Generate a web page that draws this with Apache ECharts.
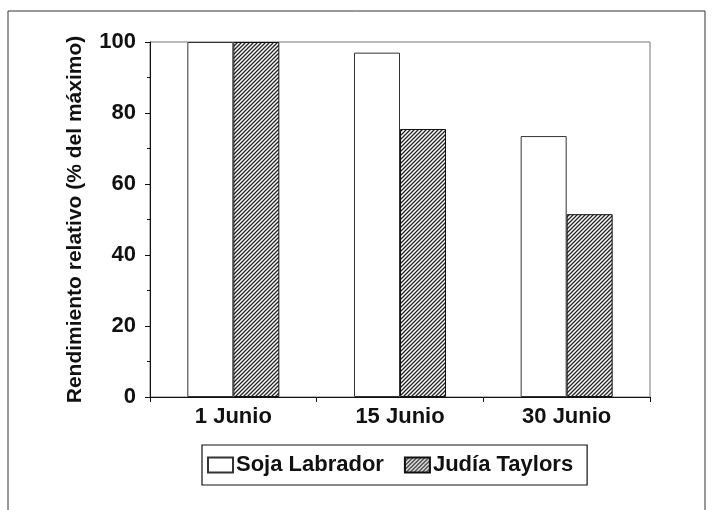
<!DOCTYPE html>
<html><head><meta charset="utf-8">
<script src="https://cdn.jsdelivr.net/npm/echarts@6/dist/echarts.min.js"></script>
<style>html,body{margin:0;padding:0;background:#fff}#c{width:713px;height:510px}</style>
</head><body><div id="c"></div>
<script>
var categories = ['1 Junio', '15 Junio', '30 Junio'];
var sojaLabrador = [100, 97, 73.5];
var judiaTaylors = [100, 75.5, 51.5];
var yTicks = [0, 20, 40, 60, 80, 100];

function hatch() {
  var s = 4;
  var cv = document.createElement('canvas');
  cv.width = s; cv.height = s;
  var g = cv.getContext('2d');
  g.fillStyle = '#fff'; g.fillRect(0, 0, s, s);
  g.strokeStyle = '#222'; g.lineWidth = 1.3;
  g.beginPath();
  g.moveTo(0, s); g.lineTo(s, 0);
  g.moveTo(-1, 1); g.lineTo(1, -1);
  g.moveTo(s - 1, s + 1); g.lineTo(s + 1, s - 1);
  g.stroke();
  return cv;
}

var font = '"Liberation Sans", Arial, sans-serif';
var chart = echarts.init(document.getElementById('c'));
chart.setOption({
  animation: false,
  backgroundColor: '#fff',
  textStyle: { fontFamily: font },
  graphic: [{
    type: 'rect', shape: { x: 8, y: 11, width: 697, height: 510 },
    style: { fill: 'none', stroke: '#333', lineWidth: 1 }, z: -1
  }],
  grid: { left: 150, top: 42, width: 500, height: 355, show: true, borderColor: '#777', borderWidth: 1, backgroundColor: 'transparent' },
  legend: {
    top: 445, left: 202,
    data: ['Soja Labrador', 'Judía Taylors'],
    icon: 'rect', itemWidth: 25, itemHeight: 15, itemGap: 20,
    borderColor: '#111', borderWidth: 1.2, padding: [9, 14, 9, 5],
    textStyle: { fontSize: 22, fontWeight: 'bold', color: '#111', fontFamily: font, padding: [0, 0, 0, -2] }
  },
  xAxis: {
    type: 'category', data: categories,
    axisLine: { lineStyle: { color: '#111', width: 1 } },
    axisTick: { show: true, length: 5, lineStyle: { color: '#111' } },
    axisLabel: { fontSize: 22, fontWeight: 'bold', color: '#111', margin: 9, fontFamily: font }
  },
  yAxis: {
    type: 'value', min: 0, max: 100, interval: 20,
    name: 'Rendimiento relativo (% del máximo)', nameLocation: 'middle', nameGap: 64,
    nameTextStyle: { fontSize: 21, fontWeight: 'bold', color: '#111', fontFamily: font },
    axisLine: { show: true, lineStyle: { color: '#111', width: 1 } },
    axisTick: { show: true, length: 5, lineStyle: { color: '#111' } },
    minorTick: { show: true, splitNumber: 2, length: 3, lineStyle: { color: '#111' } },
    splitLine: { show: false },
    axisLabel: { fontSize: 22, fontWeight: 'bold', color: '#111', margin: 14, fontFamily: font,
      formatter: function (v) { return yTicks.indexOf(v) >= 0 ? String(v) : ''; } }
  },
  series: [
    { name: 'Soja Labrador', type: 'bar', data: sojaLabrador, barWidth: 46, barGap: '0%',
      itemStyle: { color: '#fff', borderColor: '#333', borderWidth: 1 } },
    { name: 'Judía Taylors', type: 'bar', data: judiaTaylors, barWidth: 46,
      itemStyle: { color: { image: hatch(), repeat: 'repeat' }, borderColor: '#111', borderWidth: 1 } }
  ]
});
</script></body></html>
